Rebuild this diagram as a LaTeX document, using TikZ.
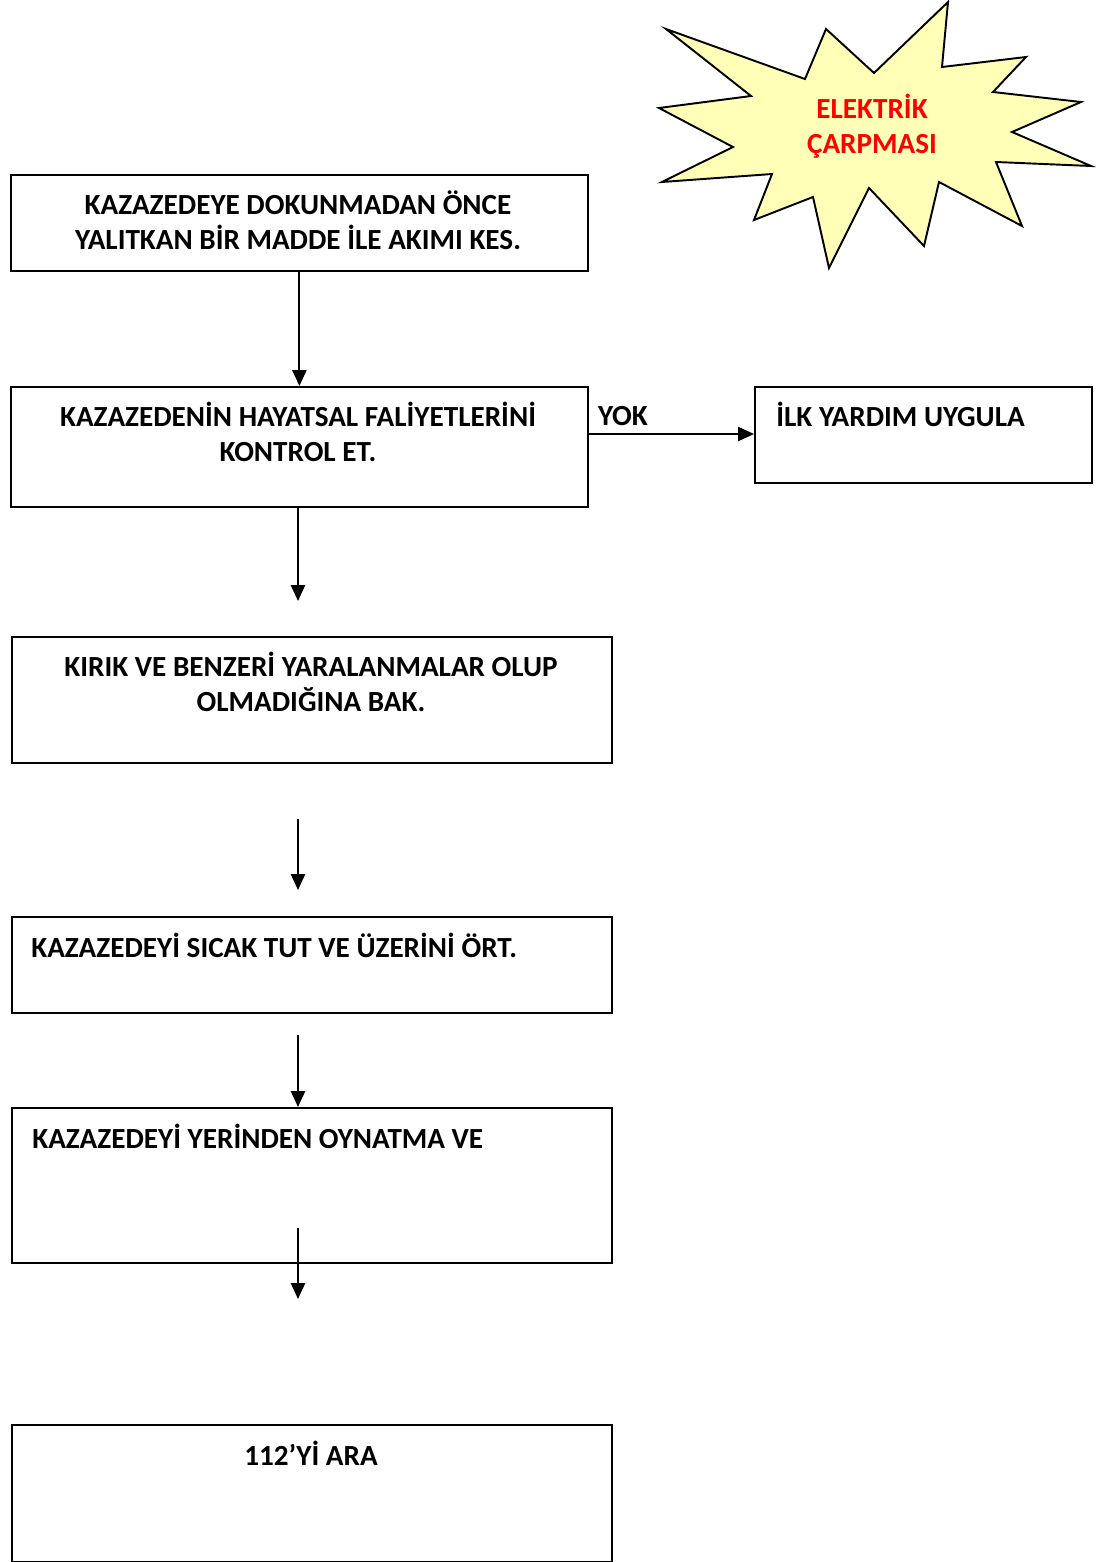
\documentclass[tikz,border=0pt]{standalone}
\usepackage{fontspec}
\setmainfont{Carlito}
\usetikzlibrary{arrows.meta}

\tikzset{
	kutu/.style={draw,line width=1.1pt,inner sep=0pt,anchor=north west},
	yazi/.style={inner sep=0pt,align=center,font=\fontsize{16.6}{20.2}\selectfont\bfseries},
	ok/.style={line width=1.1pt,-{Triangle[width=8pt,length=9pt]}}
}

\begin{document}
\begin{tikzpicture}[x=0.02cm,y=-0.02cm]

	\useasboundingbox (0,0) rectangle (1105,1562);

	\coordinate (s1) at (298,601);
	\coordinate (s2) at (298,819);
	\coordinate (s3) at (298,890);
	\coordinate (s4) at (298,1035);
	\coordinate (s5) at (298,1228);
	\coordinate (s6) at (298,1299);

	\node[kutu,minimum width=11.54cm,minimum height=1.92cm] (b1) at (10,174) {};
	\node[kutu,minimum width=11.54cm,minimum height=2.40cm] (b2) at (10,386) {};
	\node[kutu,minimum width=6.74cm,minimum height=1.92cm] (b3) at (754,386) {};
	\node[kutu,minimum width=12.00cm,minimum height=2.52cm] (b4) at (11,636) {};
	\node[kutu,minimum width=12.00cm,minimum height=1.92cm] (b5) at (11,916) {};
	\node[kutu,minimum width=12.00cm,minimum height=3.10cm] (b6) at (11,1107) {};
	\node[kutu,minimum width=12.00cm,minimum height=2.74cm] (b7) at (11,1424) {};

	\draw[line width=1.1pt,fill={rgb,255:red,255;green,255;blue,183}]
		(666,29) -- (805,79) -- (826,29) -- (874,73) -- (948,2) -- (942,67)
		-- (1026,57) -- (993,92) -- (1081,102) -- (1012,132) -- (1091,166)
		-- (996,162) -- (1022,226) -- (939,182) -- (924,246) -- (869,188)
		-- (829,268) -- (813,197) -- (754,220) -- (772,174) -- (662,182)
		-- (733,147) -- (659,108) -- (751,96) -- cycle;
	\node[yazi,text=red] (elk) at (872,126) {ELEKTRİK\\ÇARPMASI};

	\node[yazi] (t1) at (298,220) {KAZAZEDEYE DOKUNMADAN ÖNCE\\YALITKAN BİR MADDE İLE AKIMI KES.};
	\node[yazi] (t2) at (298,432) {KAZAZEDENİN HAYATSAL FALİYETLERİNİ\\KONTROL ET.};
	\node[yazi,anchor=west] (t3) at (776,414) {İLK YARDIM UYGULA};
	\node[yazi] (t4) at (311,682) {KIRIK VE BENZERİ YARALANMALAR OLUP\\OLMADIĞINA BAK.};
	\node[yazi,anchor=west] (t5) at (31,945) {KAZAZEDEYİ SICAK TUT VE ÜZERİNİ ÖRT.};
	\node[yazi,anchor=west] (t6) at (32,1136) {KAZAZEDEYİ YERİNDEN OYNATMA VE};
	\node[yazi] (t7) at (311,1453) {112’Yİ ARA};

	\draw[ok] (b1.south) -- (b2.north);
	\draw[ok] (s1 |- b2.south) -- (s1);
	\draw[ok] (s2) -- (s3);
	\draw[ok] (s4) -- (s4 |- b6.north);
	\draw[ok] (s5) -- (s6);

	\draw[ok] (b2.east |- 0,434) -- (b3.west |- 0,434)
		node[yazi,pos=0.05,anchor=south west,yshift=4pt] (yok) {YOK};

\end{tikzpicture}
\end{document}
